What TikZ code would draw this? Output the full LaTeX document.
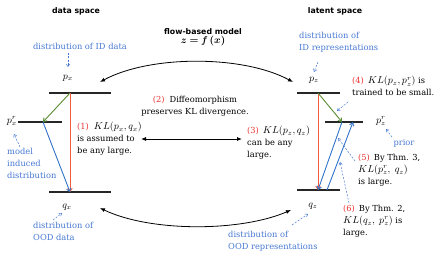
\documentclass[tikz,border=0pt]{standalone}
\usepackage{fontspec}
\setmainfont{DejaVu Serif}
\newfontfamily\hdfont{DejaVu Sans}
\usepackage{bm}
\DeclareMathSizes{8.3}{10}{7.2}{5.5}
\DeclareMathSizes{7.8}{10}{7.2}{5.5}
\usetikzlibrary{arrows.meta}
\definecolor{tblue}{RGB}{70,120,210}
\definecolor{tred}{RGB}{235,50,50}
\definecolor{ared}{RGB}{245,90,60}
\definecolor{agreen}{RGB}{90,140,50}
\definecolor{ablue}{RGB}{50,115,200}
\begin{document}
\begin{tikzpicture}[x=1pt,y=-1pt,
  txt/.style={font=\fontsize{8.3}{12}\selectfont, inner sep=0pt, align=left},
  note/.style={txt, text=tblue},
  ttl/.style={font=\hdfont\bfseries\fontsize{7.8}{11}\selectfont, inner sep=0pt, align=center},
  bar/.style={line width=1.3pt, black!85},
  arr/.style={line width=0.9pt, -{Straight Barb[length=3pt,width=4.5pt]}},
  dnote/.style={tblue, dash pattern=on 2pt off 1.5pt, line width=0.5pt, -{Straight Barb[length=2.5pt,width=3.5pt]}},
  dbl/.style={line width=0.8pt, {Latex[length=5pt,width=4pt]}-{Latex[length=5pt,width=4pt]}},
]
\useasboundingbox (0,0) rectangle (436,254);

% titles
\node[ttl] (tdata) at (76,11) {data space};
\node[ttl] (tlat) at (335,11) {latent space};
\node[ttl] (tflow) at (203,37) {flow-based model\\[-2pt]$\bm{z = f\,(x)}$};

% bars data
\coordinate (pxL) at (49,93); \coordinate (pxR) at (111,93); \coordinate (pxa) at (70,93);
\coordinate (prL) at (18,122); \coordinate (prR) at (62,122); \coordinate (pra) at (43,122);
\coordinate (qxL) at (49,192); \coordinate (qxR) at (111,192); \coordinate (qxa) at (70,192);
\draw[bar] (pxL) -- (pxR);
\draw[bar] (prL) -- (prR);
\draw[bar] (qxL) -- (qxR);
% bars latent
\coordinate (pzL) at (297,93); \coordinate (pzR) at (340,93); \coordinate (pza) at (318,93);
\coordinate (przL) at (325,122); \coordinate (przR) at (363,122);
\coordinate (prz1) at (342,122); \coordinate (prz3) at (353,122);
\coordinate (qzL) at (297,190); \coordinate (qzR) at (340,190);
\coordinate (qza) at (318,190); \coordinate (qzb) at (327,190);
\draw[bar] (pzL) -- (pzR);
\draw[bar] (przL) -- (przR);
\draw[bar] (qzL) -- (qzR);

% arrows data
\draw[arr, ared] (pxa) -- (qxa);
\draw[arr, agreen] (pxa) -- (pra);
\draw[arr, ablue] (pra) -- (qxa);
% arrows latent
\draw[arr, ared] (pza) -- (qza);
\draw[arr, agreen] (pza) -- (prz1);
\draw[arr, ablue] (prz1) -- (qza);
\draw[arr, ablue] (qzb) -- (prz3);

% labels
\node[txt] (px) at (68,78) {$p_x$};
\node[txt] (pxr) at (12,121) {$p^r_x$};
\node[txt] (qx) at (67,207) {$q_x$};
\node[txt] (pz) at (314,80) {$p_z$};
\node[txt] (pzr) at (381,121) {$p^r_z$};
\node[txt] (qz) at (313,206) {$q_z$};

% curved arrows
\coordinate (ct1) at (100,82); \coordinate (ct2) at (293,82);
\coordinate (cb1) at (100,208); \coordinate (cb2) at (291,210);
\draw[dbl] (ct1) .. controls (150,55) and (243,55) .. (ct2);
\draw[dbl] (cb1) .. controls (150,232) and (240,232) .. (cb2);
\coordinate (h1) at (141,139); \coordinate (h2) at (242,139);
\draw[dbl] (h1) -- (h2);

% texts
\node[txt, anchor=north west] (t1) at (77,122) {\textcolor{tred}{(1)}\; $KL(p_x, q_x)$\\is assumed to\\be any large.};
\node[txt, align=center] (t2) at (195,106) {\textcolor{tred}{(2)}\; Diffeomorphism\\preserves KL divergence.};
\node[txt, anchor=north west] (t3) at (247,126) {\textcolor{tred}{(3)}\, $KL(p_z, q_z)$\\can be any\\large.};
\node[txt, anchor=north west] (t4) at (352,76) {\textcolor{tred}{(4)}\, $KL(p_z, p^r_z)$ is\\trained to be small.};
\node[txt, anchor=north west] (t5) at (358,154) {\textcolor{tred}{(5)}\, By Thm. 3,\\$KL(p^r_z,\ q_z)$\\is large.};
\node[txt, anchor=north west] (t6) at (343,205) {\textcolor{tred}{(6)}\, By Thm. 2,\\$KL(q_z,\ p^r_z)$ is\\large.};

% notes
\node[note] (idd) at (80,46) {distribution of ID data};
\node[note, anchor=north west] (mid) at (7,148) {model\\induced\\distribution};
\node[note, anchor=north west] (oodd) at (33,222) {distribution of\\OOD data};
\node[note, anchor=north west] (idr) at (299,32) {distribution of\\ID representations};
\node[note, anchor=north west] (oodr) at (228,231) {distribution of\\OOD representations};
\node[note] (prior) at (404,143) {prior};

% dashed pointers
\coordinate (d1s) at (68,53); \coordinate (d1e) at (68,67);
\draw[dnote] (d1s) -- (d1e);
\coordinate (d2s) at (20,147); \coordinate (d2e) at (14,134);
\draw[dnote] (d2s) -- (d2e);
\coordinate (d3s) at (53,220); \coordinate (d3e) at (62,213);
\draw[dnote] (d3s) -- (d3e);
\coordinate (d4s) at (318,62); \coordinate (d4e) at (314,72);
\draw[dnote] (d4s) -- (d4e);
\coordinate (d5s) at (292,225); \coordinate (d5e) at (308,214);
\draw[dnote] (d5s) -- (d5e);
\coordinate (d6s) at (348,102); \coordinate (d6e) at (337,111);
\draw[dnote] (d6s) -- (d6e);
\coordinate (d7s) at (355,161); \coordinate (d7e) at (338,138);
\draw[dnote] (d7s) -- (d7e);
\coordinate (d8s) at (349,203); \coordinate (d8e) at (340,162);
\draw[dnote] (d8s) -- (d8e);
\coordinate (d9s) at (392,137); \coordinate (d9e) at (386,129);
\draw[dnote] (d9s) -- (d9e);
\end{tikzpicture}
\end{document}
